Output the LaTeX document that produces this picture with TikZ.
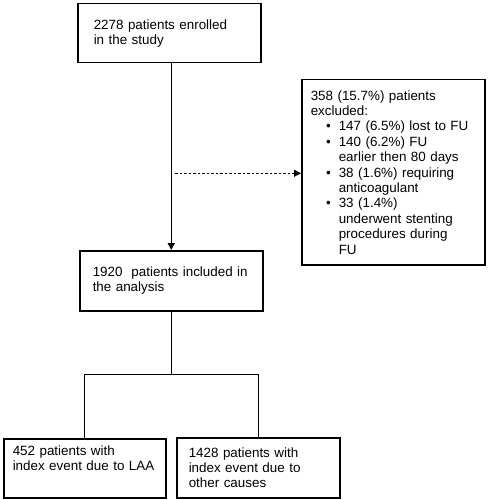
\documentclass[tikz,border=0pt]{standalone}
\usepackage{fontspec}
\setmainfont{Liberation Sans}
\usepackage{enumitem}
\usetikzlibrary{arrows.meta, positioning, calc}

\begin{document}
\begin{tikzpicture}[x=1pt, y=-1pt, box/.style={draw, line width=1.5pt,
      anchor=north west, align=left, inner ysep=0pt,
      font=\fontsize{13.4pt}{15.4pt}\selectfont}, flow/.style={line width=1.4pt,
      -{Triangle[length=7pt, width=7pt]}}, exclarrow/.style={line width=1.2pt,
      dash pattern=on 2.5pt off 2pt, -{Triangle[length=7pt, width=7pt]}},
    link/.style={line width=1.4pt}, ]

    \useasboundingbox (0,0) rectangle (487,500);

    % Boxes
    \node[box, minimum width=183pt, minimum height=59pt, inner xsep=16pt,
    text width=151pt] (enrolled) at (77,3) {2278 patients enrolled\\in the
    study}; \node[box, minimum width=183pt, minimum height=60pt, inner
    xsep=13pt, text width=157pt] (included) at (79,250) {1920\ \ patients
    included in\\the analysis};

    % Excluded patients
    \node[box, minimum width=183pt, minimum height=185pt, inner xsep=9pt, text
    width=165pt] (excluded) at (301,79) {358 (15.7\%) patients\\excluded:
      \begin{itemize}[leftmargin=28pt, labelsep=8pt, itemsep=0pt, topsep=0pt,
          parsep=0pt, partopsep=0pt]
        \item 147 (6.5\%) lost to FU
        \item 140 (6.2\%) FU\\earlier then 80 days
        \item 38 (1.6\%) requiring\\anticoagulant
        \item 33 (1.4\%)\\underwent stenting\\procedures during\\FU
      \end{itemize}};

    % Subgroups
    \node[box, minimum width=162pt, minimum height=59pt, inner xsep=9pt, text
    width=144pt] (laa) at (3,438) {452 patients with\\index event due to
    LAA\\\strut}; \node[box, minimum width=163pt, minimum height=60pt, inner
    xsep=12pt, text width=139pt] (other) at (176,437) {1428 patients
    with\\index event due to\\other causes};

    % Connectors
    \draw[flow] (enrolled.south -| included.north) -- (included.north);
    \coordinate (gap) at ($(excluded.west -| included.north)+(4,1)$);
    \draw[exclarrow] (gap) -- (gap -| excluded.west);
    \draw[link] (included.south) -- ++(0,63) coordinate (fork);
    \draw[link] (laa.north) |- (fork) -| (other.north);

\end{tikzpicture}
\end{document}
